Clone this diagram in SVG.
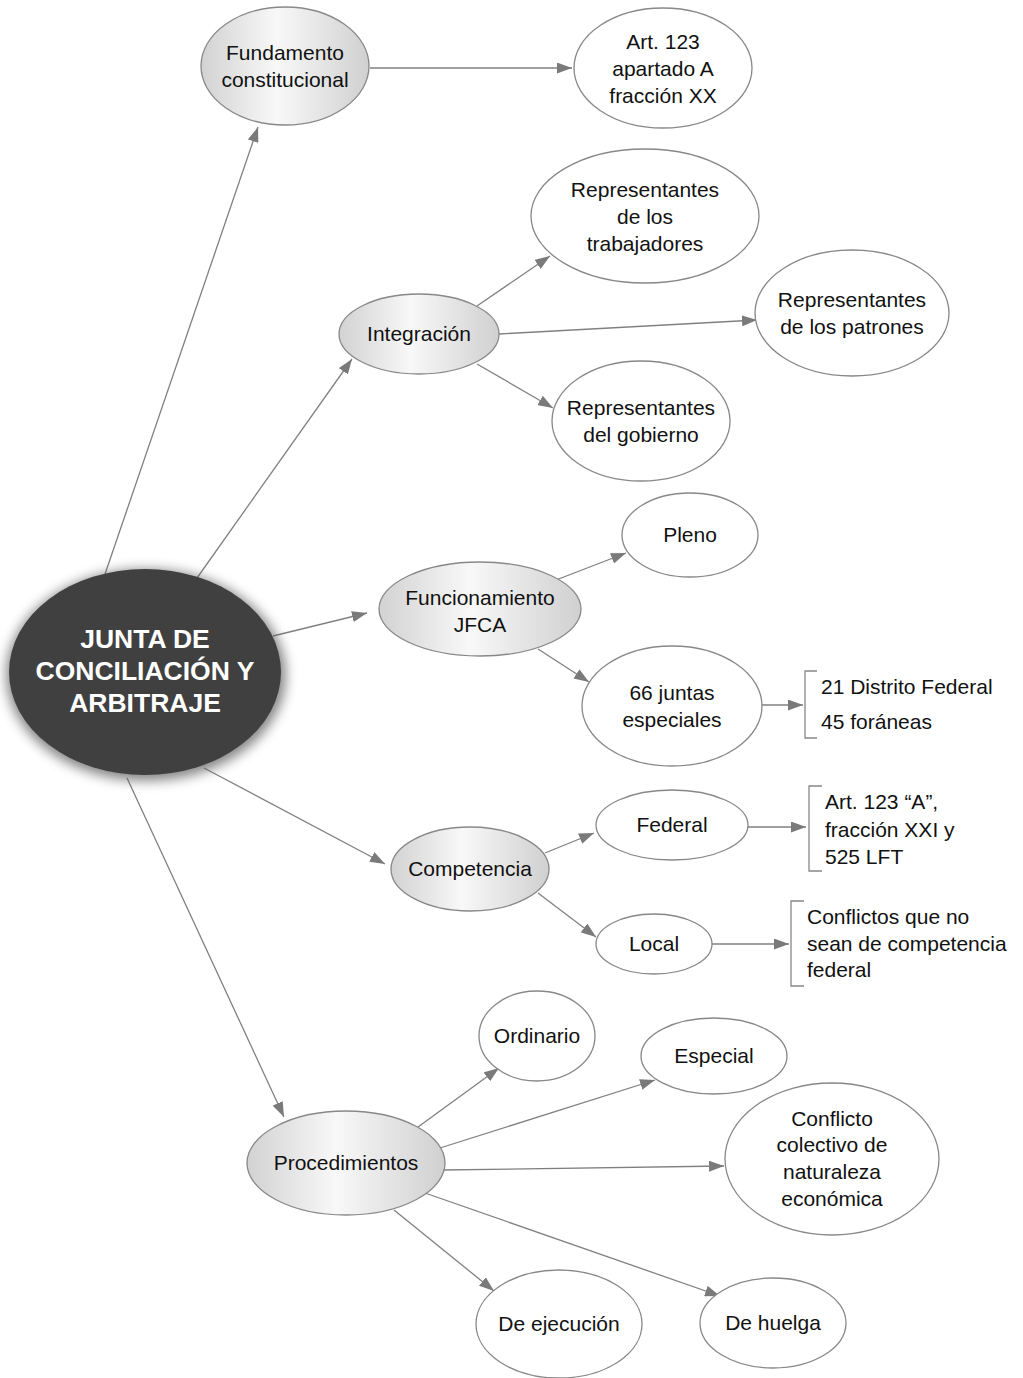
<svg xmlns="http://www.w3.org/2000/svg" width="1023" height="1378" viewBox="0 0 1023 1378">
<defs>
<linearGradient id="g" x1="0" y1="0" x2="1" y2="0">
<stop offset="0" stop-color="#d2d2d2"/>
<stop offset="0.45" stop-color="#f8f8f8"/>
<stop offset="1" stop-color="#d0d0d0"/>
</linearGradient>
<filter id="sh" x="-20%" y="-20%" width="140%" height="140%">
<feGaussianBlur stdDeviation="6"/>
</filter>
<marker id="a" viewBox="0 0 15 11" refX="15" refY="5.5" markerWidth="15" markerHeight="11" markerUnits="userSpaceOnUse" orient="auto">
<path d="M0,0 L15,5.5 L0,11 Z" fill="#7a7a7a"/>
</marker>
<style>
.n{fill:url(#g);stroke:#888;stroke-width:1.3}
.w{fill:#fff;stroke:#888;stroke-width:1.3}
.t{font-family:"Liberation Sans",Arial,sans-serif;font-size:21px;fill:#111;text-anchor:middle}
.l{font-family:"Liberation Sans",Arial,sans-serif;font-size:21px;fill:#111}
.c{font-family:"Liberation Sans",Arial,sans-serif;font-size:26.5px;font-weight:bold;fill:#fff;text-anchor:middle}
.e{stroke:#808080;stroke-width:1.3;fill:none;marker-end:url(#a)}
.b{stroke:#888;stroke-width:1.3;fill:none}
</style>
</defs>
<g id="connectors">
<line class="e" x1="104" y1="577" x2="258" y2="127"/>
<line class="e" x1="197" y1="578" x2="352" y2="359"/>
<line class="e" x1="273" y1="636" x2="367" y2="613"/>
<line class="e" x1="204" y1="768" x2="385" y2="864"/>
<line class="e" x1="127" y1="778" x2="284" y2="1117"/>
<line class="e" x1="370" y1="68" x2="572" y2="68"/>
<line class="e" x1="477" y1="306" x2="550" y2="256"/>
<line class="e" x1="499" y1="334" x2="757" y2="320"/>
<line class="e" x1="477" y1="364" x2="553" y2="408"/>
<line class="e" x1="556" y1="580" x2="626" y2="553"/>
<line class="e" x1="538" y1="649" x2="589" y2="682"/>
<line class="e" x1="762" y1="705" x2="803" y2="705"/>
<line class="e" x1="545" y1="853" x2="594" y2="833"/>
<line class="e" x1="538" y1="893" x2="596" y2="937"/>
<line class="e" x1="748" y1="827" x2="806" y2="827"/>
<line class="e" x1="712" y1="944" x2="789" y2="944"/>
<line class="e" x1="418" y1="1127" x2="499" y2="1068"/>
<line class="e" x1="440" y1="1148" x2="655" y2="1080"/>
<line class="e" x1="443" y1="1170" x2="724" y2="1166"/>
<line class="e" x1="394" y1="1210" x2="494" y2="1291"/>
<line class="e" x1="425" y1="1193" x2="720" y2="1296"/>
</g>
<g id="center">
<ellipse cx="146" cy="675" rx="140" ry="106" fill="#555" opacity="0.7" filter="url(#sh)"/>
<ellipse cx="145" cy="672" rx="136" ry="103" fill="#404040"/>
<text class="c" x="145" y="648">JUNTA DE</text>
<text class="c" x="145" y="680">CONCILIACIÓN Y</text>
<text class="c" x="145" y="712">ARBITRAJE</text>
</g>
<g id="fundamento">
<ellipse class="n" cx="285" cy="66" rx="84" ry="59"/>
<text class="t" x="285" y="60">Fundamento</text>
<text class="t" x="285" y="87">constitucional</text>
</g>
<g id="art123">
<ellipse class="w" cx="663" cy="68" rx="89" ry="60"/>
<text class="t" x="663" y="49">Art. 123</text>
<text class="t" x="663" y="76">apartado A</text>
<text class="t" x="663" y="103">fracción XX</text>
</g>
<g id="trabajadores">
<ellipse class="w" cx="645" cy="216" rx="114" ry="67"/>
<text class="t" x="645" y="197">Representantes</text>
<text class="t" x="645" y="224">de los</text>
<text class="t" x="645" y="251">trabajadores</text>
</g>
<g id="integracion">
<ellipse class="n" cx="419" cy="334" rx="80" ry="40"/>
<text class="t" x="419" y="341">Integración</text>
</g>
<g id="patrones">
<ellipse class="w" cx="852" cy="313" rx="97" ry="63"/>
<text class="t" x="852" y="307">Representantes</text>
<text class="t" x="852" y="334">de los patrones</text>
</g>
<g id="gobierno">
<ellipse class="w" cx="641" cy="421" rx="89" ry="60"/>
<text class="t" x="641" y="415">Representantes</text>
<text class="t" x="641" y="442">del gobierno</text>
</g>
<g id="pleno">
<ellipse class="w" cx="690" cy="535" rx="68" ry="42"/>
<text class="t" x="690" y="542">Pleno</text>
</g>
<g id="funcionamiento">
<ellipse class="n" cx="480" cy="609" rx="101" ry="47"/>
<text class="t" x="480" y="605">Funcionamiento</text>
<text class="t" x="480" y="632">JFCA</text>
</g>
<g id="juntas">
<ellipse class="w" cx="672" cy="706" rx="90" ry="60"/>
<text class="t" x="672" y="700">66 juntas</text>
<text class="t" x="672" y="727">especiales</text>
</g>
<g id="juntas-list">
<path class="b" d="M817,671 H805 V738 H817"/>
<text class="l" x="821" y="694">21 Distrito Federal</text>
<text class="l" x="821" y="729">45 foráneas</text>
</g>
<g id="competencia">
<ellipse class="n" cx="470" cy="869" rx="79" ry="42"/>
<text class="t" x="470" y="876">Competencia</text>
</g>
<g id="federal">
<ellipse class="w" cx="672" cy="825" rx="76" ry="35"/>
<text class="t" x="672" y="832">Federal</text>
</g>
<g id="federal-list">
<path class="b" d="M822,786 H809 V871 H822"/>
<text class="l" x="825" y="809">Art. 123 “A”,</text>
<text class="l" x="825" y="837">fracción XXI y</text>
<text class="l" x="825" y="864">525 LFT</text>
</g>
<g id="local">
<ellipse class="w" cx="654" cy="944" rx="58" ry="30"/>
<text class="t" x="654" y="951">Local</text>
</g>
<g id="local-list">
<path class="b" d="M804,901 H791 V986 H804"/>
<text class="l" x="807" y="924">Conflictos que no</text>
<text class="l" x="807" y="951">sean de competencia</text>
<text class="l" x="807" y="977">federal</text>
</g>
<g id="procedimientos">
<ellipse class="n" cx="346" cy="1163" rx="99" ry="52"/>
<text class="t" x="346" y="1170">Procedimientos</text>
</g>
<g id="ordinario">
<ellipse class="w" cx="537" cy="1036" rx="58" ry="45"/>
<text class="t" x="537" y="1043">Ordinario</text>
</g>
<g id="especial">
<ellipse class="w" cx="714" cy="1056" rx="73" ry="38"/>
<text class="t" x="714" y="1063">Especial</text>
</g>
<g id="conflicto">
<ellipse class="w" cx="832" cy="1159" rx="107" ry="76"/>
<text class="t" x="832" y="1126">Conflicto</text>
<text class="t" x="832" y="1152">colectivo de</text>
<text class="t" x="832" y="1179">naturaleza</text>
<text class="t" x="832" y="1206">económica</text>
</g>
<g id="ejecucion">
<ellipse class="w" cx="559" cy="1324" rx="83" ry="54"/>
<text class="t" x="559" y="1331">De ejecución</text>
</g>
<g id="huelga">
<ellipse class="w" cx="773" cy="1323" rx="73" ry="45"/>
<text class="t" x="773" y="1330">De huelga</text>
</g>
</svg>
